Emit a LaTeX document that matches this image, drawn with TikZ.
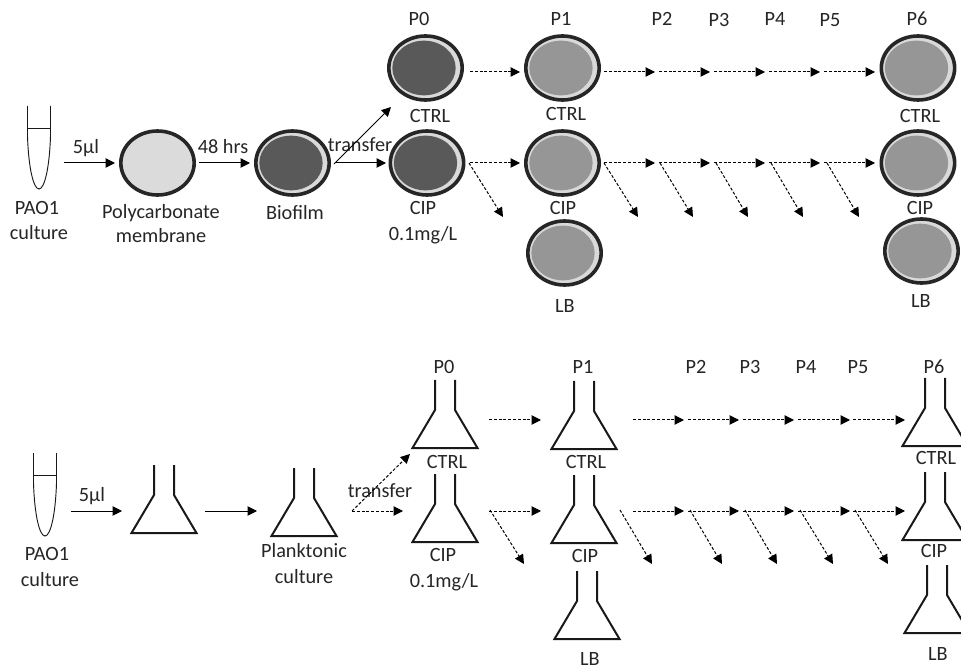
\documentclass[tikz,border=0pt]{standalone}
\usepackage{fontspec}
\setmainfont{Carlito}
\usetikzlibrary{shapes.geometric,arrows.meta}
\definecolor{ringc}{HTML}{D9D9D9}
\definecolor{darkc}{HTML}{595959}
\definecolor{midc}{HTML}{969696}
\definecolor{inkc}{HTML}{262626}
\tikzset{
  x=0.75pt,y=-0.75pt,
  dishbox/.style={draw=inkc,line width=2.7pt,ellipse,fill=ringc,minimum width=55pt,minimum height=48pt,inner sep=0pt,outer sep=0pt},
  dishcore/.style={ellipse,minimum width=47.5pt,minimum height=41pt,inner sep=0pt},
  lbl/.style={font=\fontsize{15.2pt}{18pt}\selectfont,text=black!85,inner sep=0pt,anchor=center},
  solidarrow/.style={line width=0.75pt,-{Triangle[length=7pt,width=7pt]}},
  dasharrow/.style={line width=0.75pt,dash pattern=on 2.2pt off 1.4pt,-{Triangle[length=7pt,width=7pt,sep=0pt]}},
  flaskline/.style={line width=1.5pt,line join=miter,draw=black!90},
  tubeline/.style={line width=0.7pt,draw=black!90},
}
\newcommand{\dishat}[4]{%
  \node[dishbox] (#1) at (#2,#3) {};
  \node[dishcore,fill=#4] (#1in) at (#2-1.5,#3) {};
}
\newcommand{\flaskat}[3]{% centre x, top y, name
  \coordinate (#3) at (#1,#2);
  \draw[flaskline] (#1-10,#2) -- (#1-10,#2+30) -- (#1-32.5,#2+68) -- (#1+32.5,#2+68) -- (#1+10,#2+30) -- (#1+10,#2);
}
\newcommand{\tubeat}[3]{% left x, top y, name
  \coordinate (#3) at (#1,#2);
  \draw[tubeline] (#1,#2) -- (#1,#2+30) .. controls (#1+1,#2+62) and (#1+6,#2+83) .. (#1+11.5,#2+83) .. controls (#1+17,#2+83) and (#1+22,#2+62) .. (#1+23,#2+30) -- (#1+23,#2);
  \draw[tubeline] (#1,#2+22) -- (#1+23,#2+22);
}
\newcommand{\txt}[4]{\node[lbl] (#1) at (#2,#3) {#4};}
\newcommand{\pt}[3]{\coordinate (#1) at (#2,#3);}
\begin{document}
\begin{tikzpicture}
\clip (0,0) rectangle (961,670);
\fill[white] (0,0) rectangle (961,670);
% ---------- top panel ----------
\tubeat{27.5}{106}{tubeA}
\node[dishbox,fill=ringc!95!white] (memb) at (157.5,163) {};
\dishat{biof}{292.5}{163}{darkc}
\dishat{pzc}{425.5}{68}{darkc}
\dishat{pzi}{427}{163}{darkc}
\dishat{ponec}{562.5}{68}{midc}
\dishat{ponei}{562.5}{163}{midc}
\dishat{ponel}{564.5}{253}{midc}
\dishat{psixc}{918}{68}{midc}
\dishat{psixi}{918}{163}{midc}
\dishat{psixl}{921.5}{251}{midc}
\txt{t1}{37}{208}{PAO1}
\txt{t2}{39}{233}{culture}
\txt{t3}{86}{148}{5µl}
\txt{t4}{161}{213}{Polycarbonate}
\txt{t5}{161}{236}{membrane}
\txt{t6}{223}{147}{48 hrs}
\txt{t7}{295}{213}{Biofilm}
\txt{t8}{360}{145}{transfer}
\txt{t9}{419}{19}{P0}
\txt{t10}{430}{116}{CTRL}
\txt{t11}{423}{208}{CIP}
\txt{t12}{423}{235}{0.1mg/L}
\txt{t13}{561}{19}{P1}
\txt{t14}{566}{114}{CTRL}
\txt{t15}{563}{208}{CIP}
\txt{t16}{565}{306}{LB}
\txt{t17}{662}{19}{P2}
\txt{t18}{719}{20}{P3}
\txt{t19}{775}{19}{P4}
\txt{t20}{830}{20}{P5}
\txt{t21}{917}{19}{P6}
\txt{t22}{920}{116}{CTRL}
\txt{t23}{920}{208}{CIP}
\txt{t24}{921}{301}{LB}
% solid arrows
\pt{a1}{64}{163}\pt{a2}{115}{163}
\pt{a3}{199}{163}\pt{a4}{250}{163}
\pt{a5}{335}{163}\pt{a6}{386}{163}
\pt{a7}{334}{164}\pt{a8}{391}{107}
\draw[solidarrow] (a1) -- (a2);
\draw[solidarrow] (a3) -- (a4);
\draw[solidarrow] (a5) -- (a6);
\draw[solidarrow] (a7) -- (a8);
% dashed chains, top panel
\foreach \n/\s/\e in {0/470/520,1/604/655,2/659/710,3/714/765,4/769/820,5/824/875}{
  \coordinate (uc\n) at (\s,72); \coordinate (vc\n) at (\e,72);
  \draw[dasharrow] (uc\n) -- (vc\n);
}
\foreach \n/\s/\e in {0/470/520,1/604/655,2/659/710,3/714/765,4/769/820,5/824/875}{
  \coordinate (ui\n) at (\s,163); \coordinate (vi\n) at (\e,163);
  \draw[dasharrow] (ui\n) -- (vi\n);
}
\foreach \n/\s/\e in {0/469/503,1/604/638,2/660/693,3/716/748,4/771/803,5/827/859}{
  \coordinate (ud\n) at (\s,163); \coordinate (vd\n) at (\e,217);
  \draw[dasharrow] (ud\n) -- (vd\n);
}
% ---------- bottom panel ----------
\tubeat{33.5}{453}{tubeB}
\flaskat{164}{465}{f1}
\flaskat{304}{468}{f2}
\flaskat{445}{380}{f3}
\flaskat{445}{474}{f4}
\flaskat{584}{381}{f5}
\flaskat{584}{475}{f6}
\flaskat{587}{571}{f7}
\flaskat{935}{378}{f8}
\flaskat{935}{472}{f9}
\flaskat{937}{565}{f10}
\txt{b1}{47}{554}{PAO1}
\txt{b2}{50}{580}{culture}
\txt{b3}{92}{496}{5µl}
\txt{b4}{304}{551}{Planktonic}
\txt{b5}{304}{577}{culture}
\txt{b6}{380}{491}{transfer}
\txt{b7}{444}{367}{P0}
\txt{b8}{447}{462}{CTRL}
\txt{b9}{443}{555}{CIP}
\txt{b10}{444}{582}{0.1mg/L}
\txt{b11}{583}{367}{P1}
\txt{b12}{586}{462}{CTRL}
\txt{b13}{585}{556}{CIP}
\txt{b14}{590}{659}{LB}
\txt{b15}{696}{367}{P2}
\txt{b16}{750}{367}{P3}
\txt{b17}{806}{367}{P4}
\txt{b18}{858}{367}{P5}
\txt{b19}{934}{367}{P6}
\txt{b20}{936}{458}{CTRL}
\txt{b21}{934}{551}{CIP}
\txt{b22}{938}{654}{LB}
\pt{c1}{71}{511}\pt{c2}{122}{511}
\pt{c3}{205}{511}\pt{c4}{257}{511}
\pt{c5}{352}{511}\pt{c6}{403}{511}
\pt{c7}{352}{511}\pt{c8}{410}{454}
\draw[solidarrow] (c1) -- (c2);
\draw[solidarrow] (c3) -- (c4);
\draw[dasharrow] (c5) -- (c6);
\draw[dasharrow] (c7) -- (c8);
\foreach \n/\s/\e in {0/489/541,1/633/684,2/688/739,3/743/794,4/798/850,5/853/905}{
  \coordinate (pc\n) at (\s,420); \coordinate (qc\n) at (\e,420);
  \draw[dasharrow] (pc\n) -- (qc\n);
  \coordinate (pi\n) at (\s,511); \coordinate (qi\n) at (\e,511);
  \draw[dasharrow] (pi\n) -- (qi\n);
}
\foreach \n/\s/\e in {0/490/524,1/620/652,2/690/722,3/745/777,4/800/833,5/855/888}{
  \coordinate (pd\n) at (\s,510); \coordinate (qd\n) at (\e,564);
  \draw[dasharrow] (pd\n) -- (qd\n);
}
\end{tikzpicture}
\end{document}
